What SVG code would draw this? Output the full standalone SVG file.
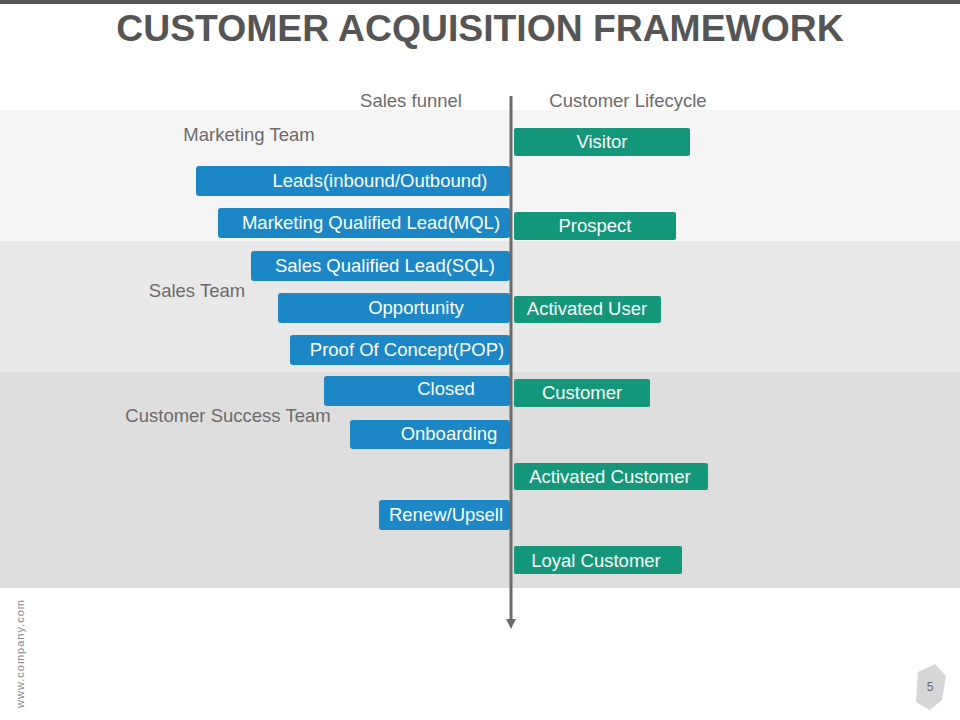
<svg xmlns="http://www.w3.org/2000/svg" width="960" height="720" viewBox="0 0 960 720">
<style>
.t{font-family:"Liberation Sans",Arial,sans-serif}
.lbl{font-size:18.5px;fill:#6b6b6b}
.bt{font-size:18.5px;fill:#fff;text-anchor:middle}
.blue{fill:#1b87c6}
.green{fill:#14967a}
</style>
<defs><marker id="ah" markerWidth="10" markerHeight="10" refX="5" refY="5" orient="auto" markerUnits="userSpaceOnUse"><path d="M0,0 L10,5 L0,10 z" fill="#6b6b6b"/></marker></defs>
<rect width="960" height="720" fill="#fff"/>
<rect x="0" y="0" width="960" height="4" fill="#555"/>
<text class="t" x="480" y="41" text-anchor="middle" font-size="37.3" font-weight="bold" fill="#555">CUSTOMER ACQUISITION FRAMEWORK</text>
<rect x="0" y="110" width="960" height="131" fill="#f5f5f5"/>
<rect x="0" y="241" width="960" height="131" fill="#e8e8e8"/>
<rect x="0" y="372" width="960" height="216" fill="#dedede"/>
<text class="t lbl" x="411" y="107" text-anchor="middle">Sales funnel</text>
<text class="t lbl" x="628" y="107" text-anchor="middle">Customer Lifecycle</text>
<text class="t lbl" x="249" y="141" text-anchor="middle">Marketing Team</text>
<text class="t lbl" x="197" y="297" text-anchor="middle">Sales Team</text>
<text class="t lbl" x="228" y="422" text-anchor="middle">Customer Success Team</text>
<g id="funnel">
<g id="leads"><rect class="blue" x="196" y="166" width="314" height="30" rx="3"/><text class="t bt" x="380" y="187">Leads(inbound/Outbound)</text></g>
<g id="mql"><rect class="blue" x="218" y="208" width="292" height="30" rx="3"/><text class="t bt" x="371" y="229">Marketing Qualified Lead(MQL)</text></g>
<g id="sql"><rect class="blue" x="251" y="251" width="259" height="30" rx="3"/><text class="t bt" x="385" y="272">Sales Qualified Lead(SQL)</text></g>
<g id="opp"><rect class="blue" x="278" y="293" width="232" height="30" rx="3"/><text class="t bt" x="416" y="314">Opportunity</text></g>
<g id="pop"><rect class="blue" x="290" y="335" width="220" height="30" rx="3"/><text class="t bt" x="407" y="356">Proof Of Concept(POP)</text></g>
<g id="closed"><rect class="blue" x="324" y="376" width="186" height="30" rx="3"/><text class="t bt" x="446" y="395">Closed</text></g>
<g id="onb"><rect class="blue" x="350" y="420" width="160" height="29" rx="3"/><text class="t bt" x="449" y="440">Onboarding</text></g>
<g id="renew"><rect class="blue" x="379" y="500" width="131" height="30" rx="3"/><text class="t bt" x="446" y="521">Renew/Upsell</text></g>
</g>
<g id="lifecycle">
<g id="visitor"><rect class="green" x="514" y="128" width="176" height="28" rx="2"/><text class="t bt" x="602" y="148">Visitor</text></g>
<g id="prospect"><rect class="green" x="514" y="212" width="162" height="28" rx="2"/><text class="t bt" x="595" y="232">Prospect</text></g>
<g id="actuser"><rect class="green" x="514" y="296" width="147" height="27" rx="2"/><text class="t bt" x="587" y="315">Activated User</text></g>
<g id="customer"><rect class="green" x="514" y="379" width="136" height="28" rx="2"/><text class="t bt" x="582" y="399">Customer</text></g>
<g id="actcust"><rect class="green" x="514" y="463" width="194" height="27" rx="2"/><text class="t bt" x="610" y="483">Activated Customer</text></g>
<g id="loyal"><rect class="green" x="514" y="546" width="168" height="28" rx="2"/><text class="t bt" x="596" y="567">Loyal Customer</text></g>
</g>
<g id="connectors"><line x1="511" y1="96" x2="511" y2="624" stroke="#6b6b6b" stroke-width="3" marker-end="url(#ah)"/></g>
<text class="t" transform="translate(24,708) rotate(-90)" font-size="11" fill="#888" letter-spacing="1">www.company.com</text>
<path d="M918,672 L935,664 L946,676 L942,700 L930,710 L916,702 Z" fill="#d6d6d6"/>
<text class="t" x="930" y="691" font-size="12" fill="#666" text-anchor="middle">5</text>
</svg>
